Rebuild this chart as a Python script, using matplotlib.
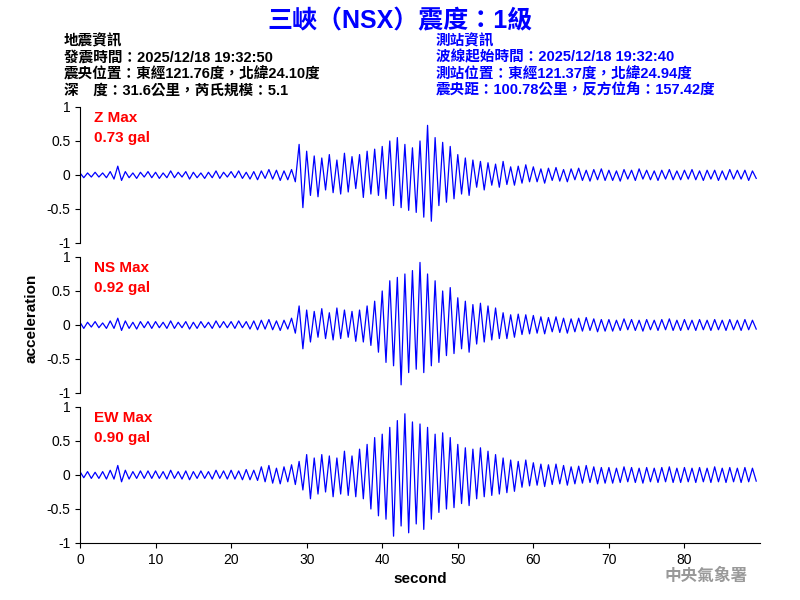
import numpy as np
import matplotlib
matplotlib.use("Agg")
import matplotlib.pyplot as plt

plt.rcParams['font.family'] = ['Liberation Sans', 'Noto Sans CJK TC', 'DejaVu Sans']

step = 0.5
z_vals = [0.03,-0.04,0.03,-0.03,0.04,-0.03,0.03,-0.04,0.05,-0.06,0.13,-0.08,0.05,-0.04,0.03,-0.05,0.04,-0.03,0.05,-0.04,
0.04,-0.05,0.03,-0.04,0.06,-0.04,0.04,-0.03,0.05,-0.06,0.04,-0.04,0.03,-0.05,0.04,-0.04,0.06,-0.05,0.04,-0.03,
0.05,-0.04,0.06,-0.05,0.04,-0.06,0.05,-0.07,0.06,-0.05,0.08,-0.06,0.07,-0.08,0.06,-0.07,0.08,-0.10,0.45,-0.48,
0.35,-0.30,0.28,-0.32,0.25,-0.22,0.30,-0.26,0.22,-0.28,0.32,-0.25,0.27,-0.20,0.30,-0.33,0.35,-0.28,0.38,-0.30,
0.42,-0.35,0.50,-0.45,0.55,-0.48,0.45,-0.52,0.40,-0.55,0.50,-0.62,0.73,-0.68,0.55,-0.45,0.48,-0.40,0.42,-0.35,
0.30,-0.28,0.25,-0.30,0.22,-0.18,0.20,-0.22,0.18,-0.15,0.16,-0.18,0.20,-0.14,0.12,-0.15,0.13,-0.12,0.15,-0.10,
0.12,-0.10,0.09,-0.12,0.10,-0.08,0.11,-0.09,0.08,-0.10,0.09,-0.07,0.10,-0.08,0.07,-0.09,0.08,-0.07,0.09,-0.08,
0.07,-0.08,0.06,-0.09,0.08,-0.06,0.07,-0.08,0.09,-0.06,0.07,-0.07,0.06,-0.08,0.07,-0.06,0.08,-0.07,0.06,-0.07,
0.07,-0.06,0.08,-0.07,0.06,-0.08,0.07,-0.06,0.07,-0.08,0.06,-0.07,0.08,-0.06,0.07,-0.06,0.07,-0.08,0.06,-0.05]
ns_vals = [0.04,-0.05,0.04,-0.03,0.05,-0.04,0.03,-0.05,0.06,-0.05,0.10,-0.08,0.06,-0.05,0.04,-0.06,0.05,-0.04,0.05,-0.05,
0.05,-0.04,0.04,-0.05,0.06,-0.05,0.04,-0.04,0.05,-0.06,0.04,-0.05,0.05,-0.04,0.04,-0.05,0.06,-0.04,0.05,-0.04,
0.05,-0.05,0.06,-0.04,0.05,-0.06,0.06,-0.07,0.07,-0.06,0.08,-0.07,0.06,-0.08,0.07,-0.06,0.10,-0.12,0.28,-0.35,
0.22,-0.25,0.20,-0.18,0.24,-0.20,0.18,-0.22,0.25,-0.20,0.22,-0.18,0.20,-0.24,0.22,-0.25,0.28,-0.30,0.35,-0.40,
0.50,-0.55,0.65,-0.60,0.70,-0.88,0.75,-0.70,0.80,-0.65,0.92,-0.70,0.75,-0.60,0.65,-0.55,0.50,-0.45,0.55,-0.42,
0.40,-0.35,0.35,-0.40,0.30,-0.28,0.32,-0.25,0.28,-0.22,0.25,-0.20,0.18,-0.20,0.15,-0.18,0.16,-0.14,0.15,-0.13,
0.14,-0.12,0.12,-0.13,0.11,-0.10,0.12,-0.11,0.10,-0.12,0.09,-0.10,0.10,-0.09,0.11,-0.08,0.09,-0.10,0.08,-0.09,
0.08,-0.09,0.07,-0.08,0.09,-0.07,0.08,-0.08,0.07,-0.09,0.08,-0.07,0.07,-0.08,0.08,-0.07,0.09,-0.08,0.07,-0.08,
0.08,-0.07,0.07,-0.08,0.08,-0.07,0.07,-0.08,0.08,-0.07,0.07,-0.08,0.08,-0.07,0.07,-0.08,0.08,-0.07,0.07,-0.06]
ew_vals = [0.05,-0.04,0.05,-0.05,0.04,-0.05,0.05,-0.06,0.07,-0.06,0.14,-0.10,0.07,-0.06,0.05,-0.05,0.06,-0.05,0.06,-0.05,
0.06,-0.05,0.05,-0.06,0.07,-0.05,0.05,-0.06,0.06,-0.07,0.05,-0.05,0.06,-0.05,0.05,-0.06,0.07,-0.05,0.06,-0.06,
0.07,-0.06,0.06,-0.07,0.08,-0.07,0.07,-0.08,0.12,-0.10,0.14,-0.12,0.10,-0.13,0.12,-0.10,0.15,-0.14,0.20,-0.22,
0.30,-0.35,0.25,-0.28,0.30,-0.25,0.28,-0.32,0.25,-0.28,0.35,-0.30,0.28,-0.32,0.38,-0.35,0.45,-0.50,0.55,-0.60,
0.60,-0.65,0.70,-0.90,0.80,-0.75,0.90,-0.85,0.78,-0.72,0.75,-0.80,0.70,-0.65,0.60,-0.55,0.62,-0.50,0.55,-0.48,
0.45,-0.42,0.40,-0.45,0.38,-0.35,0.40,-0.32,0.35,-0.30,0.30,-0.28,0.25,-0.26,0.22,-0.24,0.20,-0.18,0.22,-0.16,
0.18,-0.15,0.16,-0.17,0.15,-0.14,0.16,-0.13,0.14,-0.15,0.12,-0.13,0.13,-0.12,0.14,-0.11,0.12,-0.13,0.11,-0.12,
0.11,-0.12,0.10,-0.11,0.12,-0.10,0.11,-0.11,0.10,-0.12,0.11,-0.10,0.10,-0.11,0.11,-0.10,0.12,-0.11,0.10,-0.11,
0.11,-0.10,0.10,-0.11,0.11,-0.10,0.10,-0.11,0.12,-0.10,0.10,-0.11,0.11,-0.10,0.10,-0.11,0.11,-0.10,0.10,-0.09]
labels = ["Z Max\n0.73 gal", "NS Max\n0.92 gal", "EW Max\n0.90 gal"]
yticks = [-1, -0.5, 0, 0.5, 1]
ytick_labels = ["-1", "-0.5", "0", "0.5", "1"]
xticks = [0, 10, 20, 30, 40, 50, 60, 70, 80]

fig = plt.figure(figsize=(8, 6), dpi=100)
bottoms = [0.595, 0.345, 0.095]
for i, (vals, lab) in enumerate(zip([z_vals, ns_vals, ew_vals], labels)):
    ax = fig.add_axes([0.1, bottoms[i], 0.85, 0.2267])
    t = np.arange(len(vals)) * step
    ax.plot(t, vals, color='blue', lw=0.9)
    ax.set_xlim(0, 90)
    ax.set_ylim(-1, 1)
    ax.set_yticks(yticks)
    ax.set_yticklabels(ytick_labels)
    ax.spines['top'].set_visible(False)
    ax.spines['right'].set_visible(False)
    ax.tick_params(labelsize=10)
    if i < 2:
        ax.spines['bottom'].set_visible(False)
        ax.set_xticks([])
    else:
        ax.set_xticks(xticks)
        ax.set_xlabel("second", fontsize=11, fontweight='bold')
    ax.text(0.02, 0.97, lab, transform=ax.transAxes, color='red', fontsize=11,
            fontweight='bold', va='top', linespacing=1.5)

fig.text(0.04, 0.47, "acceleration", rotation=90, fontsize=11, fontweight='bold', va='center', ha='center')
fig.text(0.5, 0.965, "三峽（NSX）震度：1級", color='blue', fontsize=18, fontweight='bold',
         ha='center', va='center', family=['Liberation Sans', 'Noto Sans CJK TC'])
left_info = "地震資訊\n發震時間：2025/12/18 19:32:50\n震央位置：東經121.76度，北緯24.10度\n深　度：31.6公里，芮氏規模：5.1"
right_info = "測站資訊\n波線起始時間：2025/12/18 19:32:40\n測站位置：東經121.37度，北緯24.94度\n震央距：100.78公里，反方位角：157.42度"
fig.text(0.08, 0.943, left_info, fontsize=10.5, fontweight='bold', va='top', linespacing=1.2,
         family=['Liberation Sans', 'Noto Sans CJK TC'])
fig.text(0.545, 0.943, right_info, fontsize=10.5, fontweight='bold', va='top', color='blue', linespacing=1.2,
         family=['Liberation Sans', 'Noto Sans CJK TC'])
fig.text(0.935, 0.032, "中央氣象署", color='#999999', fontsize=12, fontweight='bold', ha='right',
         family=['Noto Sans CJK TC'])
fig.savefig("out.png", dpi=100)
